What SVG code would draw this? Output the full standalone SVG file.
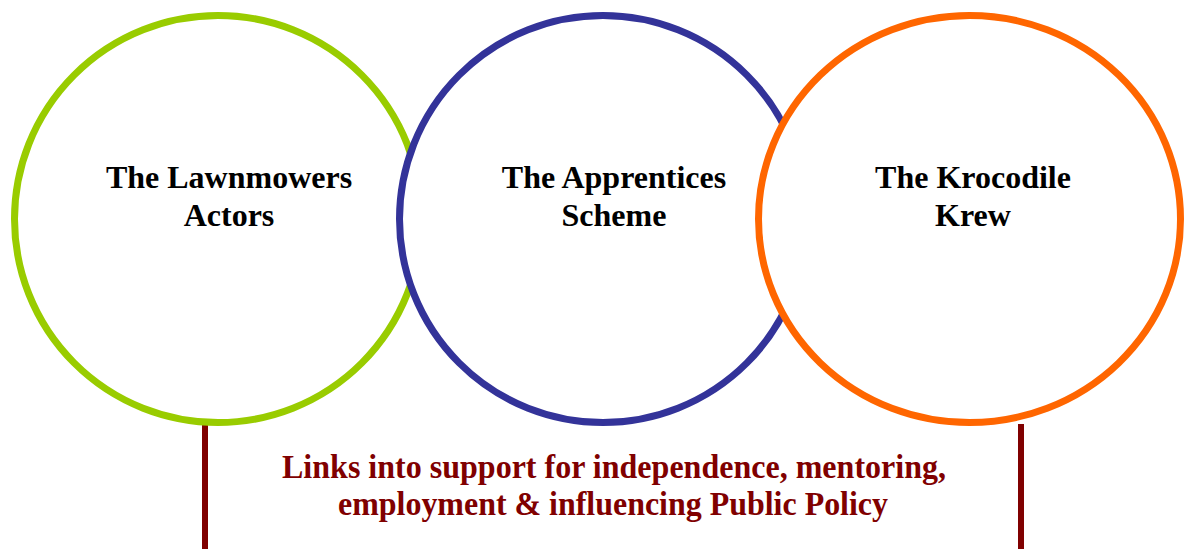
<svg xmlns="http://www.w3.org/2000/svg" width="1188" height="549" viewBox="0 0 1188 549">
  <style>
    .ring { fill: #ffffff; stroke-width: 7; }
    .label { font-family: "Liberation Serif", "Times New Roman", serif; font-weight: bold; font-size: 32px; fill: #000000; text-anchor: middle; }
    .caption { font-family: "Liberation Serif", "Times New Roman", serif; font-weight: bold; font-size: 34px; fill: #800000; text-anchor: middle; }
    .stem { stroke: #800000; stroke-width: 6; }
  </style>
  <rect width="1188" height="549" fill="#ffffff"/>

  <g id="connectors">
    <line class="stem" x1="205" y1="424" x2="205" y2="549"/>
    <line class="stem" x1="1021" y1="424" x2="1021" y2="549"/>
  </g>

  <g id="lawnmowers">
    <ellipse class="ring" cx="218" cy="219" rx="203.5" ry="203.5" stroke="#99cc00"/>
    <text class="label" x="229" y="188">The Lawnmowers</text>
    <text class="label" x="229" y="226">Actors</text>
  </g>

  <g id="apprentices">
    <ellipse class="ring" cx="603" cy="219" rx="203.5" ry="203.5" stroke="#333399"/>
    <text class="label" x="614" y="188">The Apprentices</text>
    <text class="label" x="614" y="226">Scheme</text>
  </g>

  <g id="krocodile">
    <ellipse class="ring" cx="969.5" cy="219" rx="211" ry="203.5" stroke="#ff6600"/>
    <text class="label" x="973" y="188">The Krocodile</text>
    <text class="label" x="973" y="226">Krew</text>
  </g>

  <g id="caption">
    <text class="caption" x="614" y="478" textLength="664" lengthAdjust="spacingAndGlyphs">Links into support for independence, mentoring,</text>
    <text class="caption" x="613" y="515" textLength="550" lengthAdjust="spacingAndGlyphs">employment &amp; influencing Public Policy</text>
  </g>
</svg>
